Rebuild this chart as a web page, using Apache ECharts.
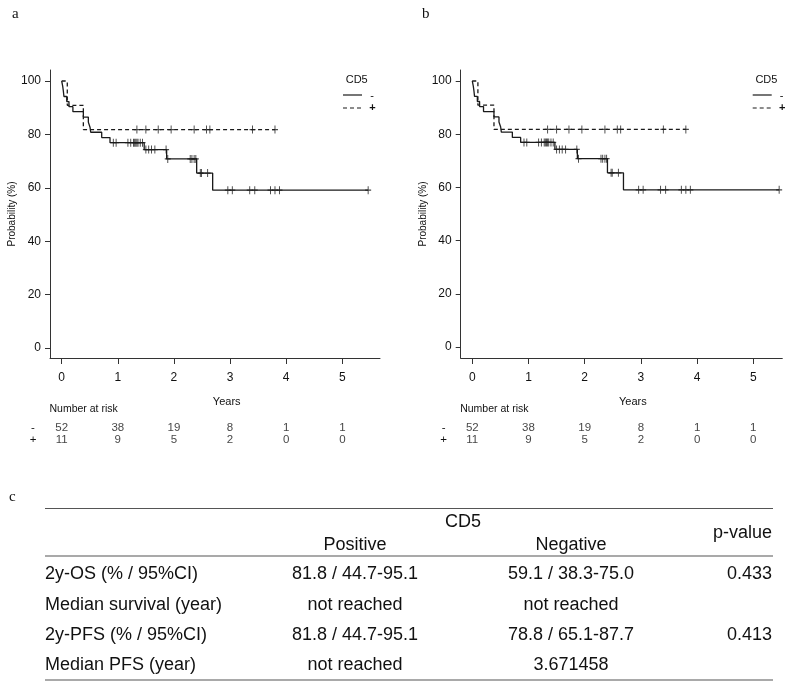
<!DOCTYPE html>
<html><head><meta charset="utf-8">
<script src="https://cdn.jsdelivr.net/npm/echarts@6/dist/echarts.min.js"></script>
<style>html,body{margin:0;padding:0;background:#fff}#c{width:797px;height:685px}</style>
</head><body><div id="c"></div>
<script>
// ---- data ----
const yearTicks = [0, 1, 2, 3, 4, 5];
const probTicks = [0, 20, 40, 60, 80, 100];
const groupNames = ['-', '+'];

// CD5 negative (solid)
const negTimes = [0, 0.018, 0.03, 0.04, 0.09, 0.13, 0.2, 0.386, 0.475, 0.505, 0.517, 0.713, 0.861, 1.47, 1.87, 2.405, 2.69, 5.46];
const negSurv  = [100, 98.1, 96.2, 94.2, 92.3, 90.4, 88.5, 86.5, 84.6, 82.7, 80.8, 78.8, 76.9, 74.3, 70.8, 65.5, 59.1, 59.1];
const negCensorTimes = [0.92, 0.97, 1.18, 1.23, 1.28, 1.30, 1.32, 1.34, 1.36, 1.40, 1.44,
                        1.50, 1.55, 1.60, 1.66, 1.86,
                        1.89, 2.29, 2.32, 2.36, 2.39,
                        2.47, 2.49, 2.60,
                        2.96, 3.04, 3.35, 3.44, 3.72, 3.80, 3.88, 5.46];
const negCensorSurv  = [76.9, 76.9, 76.9, 76.9, 76.9, 76.9, 76.9, 76.9, 76.9, 76.9, 76.9,
                        74.3, 74.3, 74.3, 74.3, 74.3,
                        70.8, 70.8, 70.8, 70.8, 70.8,
                        65.5, 65.5, 65.5,
                        59.1, 59.1, 59.1, 59.1, 59.1, 59.1, 59.1, 59.1];

// CD5 positive (dashed)
const posTimes = [0, 0.1, 0.386, 3.80];
const posSurv  = [100, 90.9, 81.8, 81.8];
const posCensorTimes = [1.34, 1.50, 1.72, 1.95, 2.36, 2.58, 2.64, 3.40, 3.80];
const posCensorSurv  = [81.8, 81.8, 81.8, 81.8, 81.8, 81.8, 81.8, 81.8, 81.8];

// number at risk
const riskNeg = [52, 38, 19, 8, 1, 1];
const riskPos = [11, 9, 5, 2, 0, 0];

// table (panel c)
const tableGroup = 'CD5';
const tableCols = ['Positive', 'Negative'];
const tablePHeader = 'p-value';
const rowLabels = ['2y-OS (% / 95%CI)', 'Median survival (year)', '2y-PFS (% / 95%CI)', 'Median PFS (year)'];
const posVals = ['81.8 / 44.7-95.1', 'not reached', '81.8 / 44.7-95.1', 'not reached'];
const negVals = ['59.1 / 38.3-75.0', 'not reached', '78.8 / 65.1-87.7', '3.671458'];
const pVals = ['0.433', '', '0.413', ''];

// ---- layout ----
const FONT = "'Liberation Sans', Arial, sans-serif";
const SERIF = "'Liberation Serif', 'Times New Roman', serif";
const INK = '#1a1a1a';
const panels = [
  { left: 50, width: 330, xmin: -0.208, xmax: 5.671, ymin: -3.75, ymax: 104.12, letter: 'a', letterX: 12, legendX: 343 },
  { left: 460.7, width: 321.6, xmin: -0.206, xmax: 5.516, ymin: -4.1, ymax: 104.13, letter: 'b', letterX: 422, legendX: 752.7 }
];

const zip = (a, b) => a.map((v, i) => [v, b[i]]);

const grid = [], xAxis = [], yAxis = [], series = [], graphic = [];
panels.forEach((p, k) => {
  grid.push({ left: p.left, top: 70, width: p.width, height: 288 });
  xAxis.push({
    gridIndex: k, type: 'value', min: p.xmin, max: p.xmax,
    axisLine: { show: true, onZero: false, lineStyle: { color: '#333', width: 1 } },
    axisTick: { show: true, length: 6, customValues: yearTicks, lineStyle: { color: '#333' } },
    axisLabel: { customValues: yearTicks, margin: 14, color: '#111', fontSize: 12, fontFamily: FONT },
    splitLine: { show: false }
  });
  yAxis.push({
    gridIndex: k, type: 'value', min: p.ymin, max: p.ymax,
    name: 'Probability (%)', nameLocation: 'middle', nameGap: 31, nameRotate: 90,
    nameTextStyle: { fontSize: 10, color: '#111', fontFamily: FONT },
    axisLine: { show: true, onZero: false, lineStyle: { color: '#333', width: 1 } },
    axisTick: { show: true, length: 5, customValues: probTicks, lineStyle: { color: '#333' } },
    axisLabel: { customValues: probTicks, margin: 9, color: '#111', fontSize: 12, fontFamily: FONT },
    splitLine: { show: false }
  });
});
// risk-table grids
panels.forEach((p, k) => {
  grid.push({ left: p.left, top: 427.7, width: p.width, height: 12.3 });
  xAxis.push({ gridIndex: 2 + k, type: 'value', min: p.xmin, max: p.xmax, show: false });
  yAxis.push({
    gridIndex: 2 + k, type: 'value', min: 0, max: 1,
    axisLine: { show: false }, axisTick: { show: false }, splitLine: { show: false },
    axisLabel: { customValues: [0, 1], formatter: v => (v === 1 ? groupNames[0] : groupNames[1]),
      align: 'center', margin: 17, color: '#111', fontSize: 11.5, fontFamily: FONT }
  });
});

panels.forEach((p, k) => {
  series.push({
    name: groupNames[0], type: 'line', step: 'end', xAxisIndex: k, yAxisIndex: k,
    data: zip(negTimes, negSurv), symbol: 'none', color: INK,
    lineStyle: { color: INK, width: 1.3, type: 'solid' }, animation: false, z: 3
  });
  series.push({
    name: groupNames[1], type: 'line', step: 'end', xAxisIndex: k, yAxisIndex: k,
    data: zip(posTimes, posSurv), symbol: 'none', color: INK,
    lineStyle: { color: INK, width: 1.3, type: [4, 3] }, animation: false, z: 3
  });
  const cens = {
    type: 'scatter', xAxisIndex: k, yAxisIndex: k,
    symbol: 'path://M5,0L5,10M0,5L10,5', symbolSize: [6, 8],
    itemStyle: { color: 'rgba(0,0,0,0)', borderColor: INK, borderWidth: 1.1 },
    animation: false, z: 4, silent: true
  };
  series.push(Object.assign({ name: 'censor-neg', data: zip(negCensorTimes, negCensorSurv) }, cens));
  series.push(Object.assign({ name: 'censor-pos', data: zip(posCensorTimes, posCensorSurv) }, cens));
  // number at risk
  const riskLabel = { show: true, position: 'inside', formatter: q => String(q.value[2]), color: '#111', fontSize: 11.5, fontFamily: FONT };
  series.push({
    name: 'risk-neg', type: 'scatter', xAxisIndex: 2 + k, yAxisIndex: 2 + k, symbolSize: 1,
    itemStyle: { color: 'rgba(0,0,0,0)' }, label: riskLabel, animation: false, silent: true,
    data: yearTicks.map((t, i) => [t, 1, riskNeg[i]])
  });
  series.push({
    name: 'risk-pos', type: 'scatter', xAxisIndex: 2 + k, yAxisIndex: 2 + k, symbolSize: 1,
    itemStyle: { color: 'rgba(0,0,0,0)' }, label: riskLabel, animation: false, silent: true,
    data: yearTicks.map((t, i) => [t, 0, riskPos[i]])
  });

  const txt = (text, x, y, opts) => ({
    type: 'text', x, y, silent: true,
    style: Object.assign({ text, fill: '#111', fontSize: 11, fontFamily: FONT, align: 'center', verticalAlign: 'middle' }, opts || {})
  });
  graphic.push(txt(p.letter, p.letterX, 14, { fontSize: 15, fontFamily: SERIF, align: 'left' }));
  // legend
  graphic.push(txt('CD5', p.legendX + 13.7, 80, { fontSize: 11 }));
  graphic.push({ type: 'line', silent: true, shape: { x1: p.legendX, y1: 95, x2: p.legendX + 19, y2: 95 }, style: { stroke: INK, lineWidth: 1.2 } });
  graphic.push({ type: 'line', silent: true, shape: { x1: p.legendX, y1: 108, x2: p.legendX + 19, y2: 108 }, style: { stroke: INK, lineWidth: 1.2, lineDash: [4, 3] } });
  graphic.push(txt(groupNames[0], p.legendX + 29, 96, { fontSize: 11 }));
  graphic.push(txt(groupNames[1], p.legendX + 29.5, 108, { fontSize: 11, fontWeight: 'bold' }));
  graphic.push(txt('Years', p.left + (226.7 - 50) * (p.width / 330), 401.7, { fontSize: 11 }));
  graphic.push(txt('Number at risk', p.left - 0.5, 409.5, { fontSize: 10.5, align: 'left' }));
});

// table c
const tt = (text, x, y, align) => ({
  type: 'text', x, y, silent: true,
  style: { text, fill: '#111', fontSize: 18, fontFamily: FONT, align: align || 'center', verticalAlign: 'middle' }
});
const hl = (y, w) => ({ type: 'line', silent: true, shape: { x1: 45, y1: y, x2: 773, y2: y }, style: { stroke: '#555', lineWidth: w || 1.2 } });
graphic.push({ type: 'text', x: 9, y: 497, silent: true, style: { text: 'c', fill: '#111', fontSize: 15, fontFamily: SERIF, align: 'left', verticalAlign: 'middle' } });
graphic.push(hl(508.5), hl(556), hl(680));
graphic.push(tt(tableGroup, 463, 521.7));
graphic.push(tt(tableCols[0], 355, 545));
graphic.push(tt(tableCols[1], 571, 545));
graphic.push(tt(tablePHeader, 772, 533.3, 'right'));
const rowY = [574, 605, 635, 665];
rowLabels.forEach((r, i) => {
  graphic.push(tt(r, 45, rowY[i], 'left'));
  graphic.push(tt(posVals[i], 355, rowY[i]));
  graphic.push(tt(negVals[i], 571, rowY[i]));
  if (pVals[i]) graphic.push(tt(pVals[i], 772, rowY[i], 'right'));
});

const chart = echarts.init(document.getElementById('c'), null, { renderer: 'canvas' });
chart.setOption({
  backgroundColor: '#fff', animation: false,
  grid, xAxis, yAxis, series, graphic
});
</script>
</body></html>
